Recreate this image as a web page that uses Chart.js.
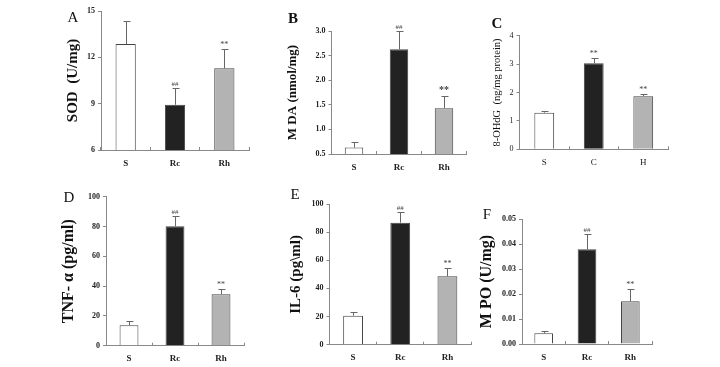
<!DOCTYPE html>
<html>
<head>
<meta charset="utf-8">
<script src="https://cdn.jsdelivr.net/npm/chart.js@4.4.0/dist/chart.umd.min.js"></script>
<style>
  html, body { margin: 0; padding: 0; background: #fff; }
  #wrap { position: relative; width: 720px; height: 367px; overflow: hidden; }
  #wrap canvas { position: absolute; left: 0; top: 0; }
</style>
</head>
<body>
<div id="wrap"></div>
<script>
// groups
const groups = ['S', 'Rc', 'Rh'];
const groupsC = ['S', 'C', 'H'];

// A - SOD
const sodMean = [12.86, 8.93, 11.29];
const sodSd = [1.47, 1.07, 1.25];
const sodSig = ['', '##', '**'];
const sodTicks = [6, 9, 12, 15];

// B - MDA
const mdaMean = [0.63, 2.63, 1.43];
const mdaSd = [0.12, 0.37, 0.24];
const mdaSig = ['', '##', '**'];
const mdaTicks = [0.5, 1.0, 1.5, 2.0, 2.5, 3.0];

// C - 8-OHdG
const ohdgMean = [1.29, 3.03, 1.87];
const ohdgSd = [0.06, 0.17, 0.07];
const ohdgSig = ['', '**', '**'];
const ohdgTicks = [0, 1, 2, 3, 4];

// D - TNF-a
const tnfMean = [13.7, 80.1, 34.5];
const tnfSd = [2.7, 6.9, 3.8];
const tnfSig = ['', '##', '**'];
const tnfTicks = [0, 20, 40, 60, 80, 100];

// E - IL-6
const il6Mean = [20.6, 86.7, 48.6];
const il6Sd = [2.6, 7.8, 5.9];
const il6Sig = ['', '##', '**'];
const il6Ticks = [0, 20, 40, 60, 80, 100];

// F - MPO
const mpoMean = [0.0043, 0.0379, 0.0171];
const mpoSd = [0.0010, 0.0061, 0.0048];
const mpoSig = ['', '##', '**'];
const mpoTicks = [0, 0.01, 0.02, 0.03, 0.04, 0.05];

const fills = ['#ffffff', '#222222', '#b3b3b3'];
const serif = "'Liberation Serif', 'Times New Roman', serif";

const panels = [
  { letter: 'A', letterFont: '15px ' + serif, lx: 73, ly: 18,
    labels: groups, mean: sodMean, sd: sodSd, sig: sodSig, ticks: sodTicks, dec: 0,
    title: 'SOD  (U/mg)', titleSize: 15, titleWeight: 'bold', tx: 73,
    L: 101, R: 249, T: 11, B: 150, bar: 0.41, tickWeight: 'bold',
    sigFonts: ['', '7px ' + serif, '8px ' + serif] },
  { letter: 'B', letterFont: 'bold 15px ' + serif, lx: 293, ly: 19,
    labels: groups, mean: mdaMean, sd: mdaSd, sig: mdaSig, ticks: mdaTicks, dec: 1,
    title: 'M DA (nmol/mg)', titleSize: 13, titleWeight: 'bold', tx: 293,
    L: 331.5, R: 466.5, T: 31, B: 154, bar: 0.41, tickWeight: 'bold',
    sigFonts: ['', '7px ' + serif, 'bold 10px ' + serif] },
  { letter: 'C', letterFont: 'bold 15px ' + serif, lx: 497, ly: 24,
    labels: groupsC, mean: ohdgMean, sd: ohdgSd, sig: ohdgSig, ticks: ohdgTicks, dec: 0,
    title: '8-OHdG  (ng/mg protein)', titleSize: 10.5, titleWeight: 'normal', tx: 497,
    L: 519.5, R: 668, T: 35.7, B: 149.3, bar: 0.40, tickWeight: 'normal',
    sigFonts: ['', '8px ' + serif, '8px ' + serif] },
  { letter: 'D', letterFont: '15px ' + serif, lx: 69, ly: 198,
    labels: groups, mean: tnfMean, sd: tnfSd, sig: tnfSig, ticks: tnfTicks, dec: 0,
    title: 'TNF- α (pg/ml)', titleSize: 16, titleWeight: 'bold', tx: 69,
    L: 106, R: 244, T: 196.7, B: 345.7, bar: 0.41, tickWeight: 'bold',
    sigFonts: ['', '7px ' + serif, '8px ' + serif] },
  { letter: 'E', letterFont: '15px ' + serif, lx: 295, ly: 195,
    labels: groups, mean: il6Mean, sd: il6Sd, sig: il6Sig, ticks: il6Ticks, dec: 0,
    title: 'IL-6 (pg\\ml)', titleSize: 15, titleWeight: 'bold', tx: 296,
    L: 329.5, R: 471, T: 204, B: 344.7, bar: 0.42, tickWeight: 'bold',
    sigFonts: ['', '7px ' + serif, '8px ' + serif] },
  { letter: 'F', letterFont: '15px ' + serif, lx: 487, ly: 215,
    labels: groups, mean: mpoMean, sd: mpoSd, sig: mpoSig, ticks: mpoTicks, dec: 2,
    title: 'M PO (U/mg)', titleSize: 16, titleWeight: 'bold', tx: 487,
    L: 522, R: 652, T: 219, B: 344, bar: 0.43, tickWeight: 'bold',
    sigFonts: ['', '7px ' + serif, '8px ' + serif] }
];

const wrap = document.getElementById('wrap');

function makePanel(p) {
  const canvas = document.createElement('canvas');
  canvas.width = 720;
  canvas.height = 367;
  wrap.appendChild(canvas);

  const padLeft = p.tx - p.titleSize * 1.2 / 2;
  const xH = 20;

  // error bars, significance marks, panel letter
  const extras = {
    id: 'extras' + p.letter,
    afterDatasetsDraw(chart) {
      const ctx = chart.ctx;
      const y = chart.scales.y;
      const meta = chart.getDatasetMeta(0);
      ctx.save();
      ctx.strokeStyle = '#666';
      ctx.lineWidth = 1;
      meta.data.forEach((bar, i) => {
        const top = Math.round(y.getPixelForValue(p.mean[i] + p.sd[i])) + 0.5;
        const x = Math.round(bar.x) + 0.5;
        ctx.beginPath();
        ctx.moveTo(x, bar.y);
        ctx.lineTo(x, top);
        ctx.moveTo(x - 3, top);
        ctx.lineTo(x + 4, top);
        ctx.stroke();
        if (p.sig[i]) {
          ctx.fillStyle = '#444';
          ctx.font = p.sigFonts[i];
          ctx.textAlign = 'center';
          ctx.textBaseline = 'bottom';
          ctx.fillText(p.sig[i], bar.x, top - 1);
        }
      });
      ctx.fillStyle = '#111';
      ctx.font = p.letterFont;
      ctx.textAlign = 'center';
      ctx.textBaseline = 'middle';
      ctx.fillText(p.letter, p.lx, p.ly);
      ctx.restore();
    }
  };

  new Chart(canvas, {
    type: 'bar',
    data: {
      labels: p.labels,
      datasets: [{
        data: p.mean,
        backgroundColor: fills,
        borderColor: '#444',
        borderWidth: 1,
        borderSkipped: 'bottom',
        barPercentage: p.bar,
        categoryPercentage: 1
      }]
    },
    options: {
      responsive: false,
      animation: false,
      events: [],
      layout: { padding: { left: padLeft, right: 720 - p.R, top: p.T, bottom: 367 - p.B - xH } },
      plugins: { legend: { display: false }, tooltip: { enabled: false } },
      scales: {
        x: {
          grid: { display: true, drawOnChartArea: false, tickLength: -3, color: '#888' },
          border: { color: '#888', width: 1 },
          ticks: { font: { family: serif, size: 9, weight: p.tickWeight }, color: '#222', padding: 11 },
          afterFit: s => { s.height = xH; }
        },
        y: {
          min: p.ticks[0],
          max: p.ticks[p.ticks.length - 1],
          afterBuildTicks: s => { s.ticks = p.ticks.map(v => ({ value: v })); },
          ticks: {
            callback: v => Number(v).toFixed(p.dec),
            font: { family: serif, size: 8, weight: p.tickWeight },
            color: '#222',
            padding: 3
          },
          grid: { drawOnChartArea: false, tickLength: 3, color: '#888' },
          border: { color: '#888', width: 1 },
          title: {
            display: true,
            text: p.title,
            font: { family: serif, size: p.titleSize, weight: p.titleWeight },
            color: '#111',
            padding: 0
          },
          afterFit: s => { s.width = p.L - padLeft; }
        }
      }
    },
    plugins: [extras]
  });
}

panels.forEach(makePanel);
</script>
</body>
</html>
